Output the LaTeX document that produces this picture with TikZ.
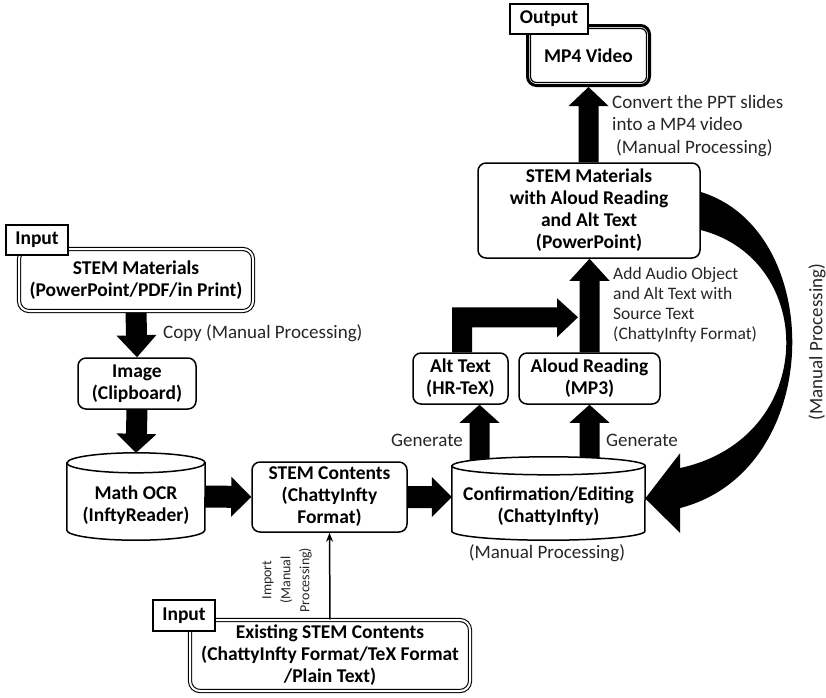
\documentclass[tikz,border=0pt]{standalone}
\usepackage{fontspec}
\setmainfont{Carlito}
\usetikzlibrary{calc,arrows.meta}
\pgfdeclarelayer{bg}
\pgfsetlayers{bg,main}
% block arrow: start, end, half shaft, half head, head length
\newcommand\barrow[5]{%
  \path (#2) coordinate (ba-e);
  \path ($(ba-e)!#5!(#1)$) coordinate (ba-h);
  \fill ($(#1)!#3!90:(ba-e)$) -- ($(ba-h)!#3!90:(ba-e)$) -- ($(ba-h)!#4!90:(ba-e)$) -- (ba-e)
     -- ($(ba-h)!#4!-90:(ba-e)$) -- ($(ba-h)!#3!-90:(ba-e)$) -- ($(#1)!#3!-90:(ba-e)$) -- cycle;}
\begin{document}
\begin{tikzpicture}[x=1pt,y=-1pt,
  every node/.style={font=\fontsize{19}{22}\selectfont, inner sep=0pt},
  box/.style={draw, line width=1.5pt, rounded corners=8pt, fill=white, align=center,
    font=\fontsize{19.5}{22}\selectfont\bfseries},
  dbox/.style={box, double, double distance=2pt, line width=1.1pt, rounded corners=10pt},
  tag/.style={draw, line width=1.2pt, fill=white, font=\fontsize{19.5}{22}\selectfont\bfseries},
  lbl/.style={text=black!85},
  cyl/.style={draw, line width=1.5pt, fill=white}
]
\useasboundingbox (0,0) rectangle (826,697);

% boxes
\node[dbox, minimum width=234pt, minimum height=62pt] (stem1) at (136,280) {STEM Materials\\(PowerPoint/PDF/in Print)};
\node[tag, minimum width=62pt, minimum height=30pt] (in1) at (37,240) {Input};
\node[box, minimum width=118pt, minimum height=51pt] (img) at (137,383.5) {Image\\(Clipboard)};
\node[minimum width=138pt, minimum height=87pt] (ocr) at (136,496.5) {};
\node[box, minimum width=155pt, minimum height=70pt] (stc) at (329.5,497) {STEM Contents\\(ChattyInfty\\Format)};
\node[dbox, minimum width=280pt, minimum height=71pt] (exist) at (330,655.5) {Existing STEM Contents\\(ChattyInfty Format/TeX Format\\/Plain Text)};
\node[tag, minimum width=62pt, minimum height=31pt] (in2) at (184,615.5) {Input};
\node[minimum width=193pt, minimum height=83pt] (conf) at (548.5,498.5) {};
\node[box, minimum width=95pt, minimum height=51pt] (alt) at (460.5,378.5) {Alt Text\\(HR-TeX)};
\node[box, minimum width=141pt, minimum height=51pt] (aloud) at (589.5,378.5) {Aloud Reading\\(MP3)};
\node[box, minimum width=222pt, minimum height=95pt] (swa) at (589,210.5) {STEM Materials\\with Aloud Reading\\and Alt Text\\(PowerPoint)};
\node[box, line width=3pt, rounded corners=9pt, minimum width=122pt, minimum height=60pt] (mp4) at (588.5,55.5) {MP4 Video};
\draw[line width=1.2pt, rounded corners=6pt] ([shift={(4.5pt,-4.5pt)}]mp4.north west) rectangle ([shift={(-4.5pt,4.5pt)}]mp4.south east);
\node[tag, minimum width=78pt, minimum height=30pt] (out) at (549,19) {Output};

% cylinders
\draw[cyl] ([yshift=-10pt]ocr.north west) -- ([yshift=10pt]ocr.south west)
  arc[start angle=180, end angle=360, x radius=69pt, y radius=10pt]
  -- ([yshift=-10pt]ocr.north east)
  arc[start angle=0, end angle=180, x radius=69pt, y radius=10pt] -- cycle;
\draw[line width=1.5pt] ([yshift=-10pt]ocr.north west) arc[start angle=180, end angle=360, x radius=69pt, y radius=10pt];
\node[font=\fontsize{19.5}{22}\selectfont\bfseries, align=center] (ocrt) at ([yshift=-8.5pt]ocr.center) {Math OCR\\(InftyReader)};

\draw[cyl] ([yshift=-9pt]conf.north west) -- ([yshift=9pt]conf.south west)
  arc[start angle=180, end angle=360, x radius=96.5pt, y radius=9pt]
  -- ([yshift=-9pt]conf.north east)
  arc[start angle=0, end angle=180, x radius=96.5pt, y radius=9pt] -- cycle;
\draw[line width=1.5pt] ([yshift=-9pt]conf.north west) arc[start angle=180, end angle=360, x radius=96.5pt, y radius=9pt];
\node[font=\fontsize{19.5}{22}\selectfont\bfseries, align=center] (conft) at ([yshift=-7.5pt]conf.center) {Confirmation/Editing\\(ChattyInfty)};

% helper coordinates
\coordinate (c1) at (conf.west |- stc.east);
\coordinate (g1) at ([xshift=19pt]alt.south);
\path (g1 |- conf.north) ++(0,10) coordinate (g1s);
\path (aloud.south |- conf.north) ++(0,10) coordinate (g2s);
\coordinate (s2) at (aloud.north |- swa.south);
\coordinate (m1) at (mp4.south |- swa.north);

\begin{pgfonlayer}{bg}
\barrow{stem1.south}{img.north}{10.5pt}{20pt}{22pt}
\barrow{img.south}{ocr.north}{10.5pt}{20pt}{19pt}
\barrow{ocr.east}{stc.west}{11pt}{20pt}{20pt}
\barrow{stc.east}{c1}{11pt}{20pt}{20pt}
\barrow{g1s}{g1}{10pt}{20pt}{18pt}
\barrow{g2s}{aloud.south}{10pt}{20pt}{18pt}
\barrow{aloud.north}{s2}{10pt}{20pt}{22pt}
\barrow{m1}{mp4.south}{10pt}{20pt}{19pt}
% bent arrow from Alt Text
\fill ([xshift=-8.5pt]alt.north) -- ++(0,-45) -- ++(105,0) -- ++(0,-9) -- ++(21,19)
  -- ++(-21,20) -- ++(0,-10) -- ++(-85,0) -- ++(0,25) -- cycle;
% curved arrow back to confirmation
\fill ($(swa.east)+(0,-18.5)$) .. controls (826,230) and (826,470) .. ($(conf.east)+(35,9.5)$)
  -- ($(conf.east)+(35,34.5)$) -- (conf.east) -- ($(conf.east)+(35,-45.5)$)
  -- ($(conf.east)+(35,-30.5)$) .. controls (818,438) and (818,260) .. ($(swa.east)+(0,19.5)$) -- cycle;
\end{pgfonlayer}

\draw[line width=1.5pt, -{Stealth[length=9pt,width=7pt]}] (exist.north) -- (stc.south);

% labels
\node[lbl, anchor=west] (lcopy) at (163,333) {Copy (Manual Processing)};
\node[lbl, anchor=west, align=left, font=\fontsize{19}{22.5}\selectfont] (lconv) at (612,126) {Convert the PPT slides\\into a MP4 video\\\hspace{4pt}(Manual Processing)};
\node[lbl, anchor=west, align=left, font=\fontsize{17.5}{20}\selectfont] (ladd) at (613,305) {Add Audio Object\\and Alt Text with\\Source Text\\(ChattyInfty Format)};
\node[lbl] (lgen1) at (427,440) {Generate};
\node[lbl] (lgen2) at (642,440) {Generate};
\node[lbl] (lman) at (547,553) {(Manual Processing)};
\node[lbl, rotate=90] (lman2) at (817,342) {(Manual Processing)};
\node[lbl, rotate=90, align=center, font=\fontsize{14}{19}\selectfont] (limp) at (287,580) {Import\\(Manual\\Processing)};
\end{tikzpicture}
\end{document}
